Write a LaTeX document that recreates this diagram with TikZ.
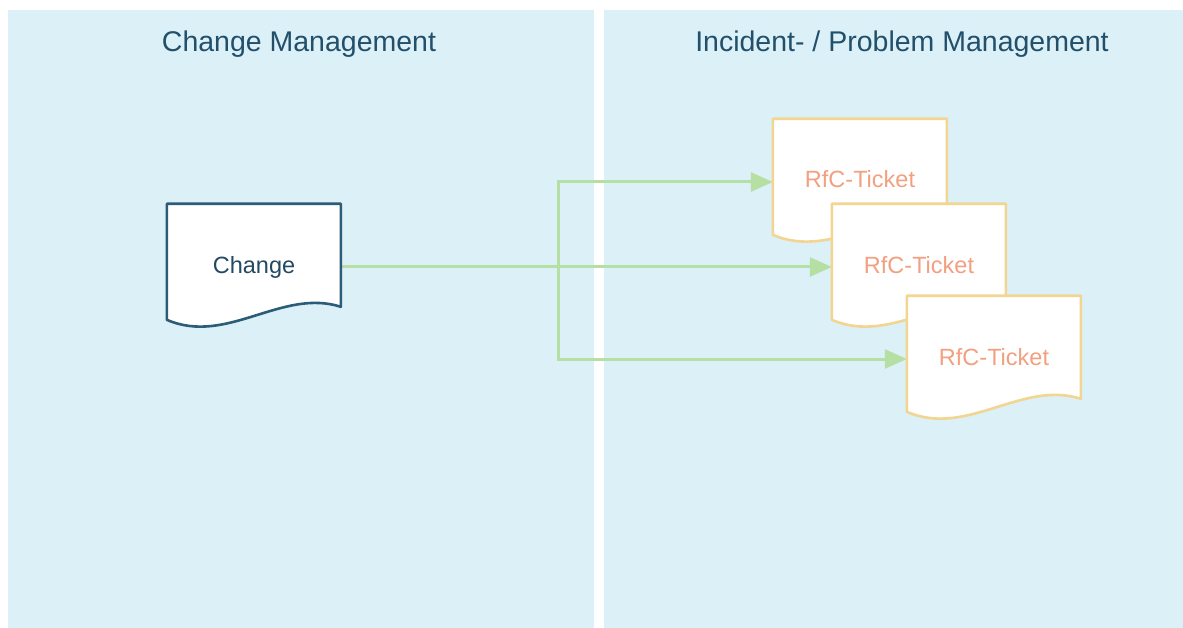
\documentclass[tikz,border=0pt]{standalone}
\usepackage{fontspec}
\setmainfont{Liberation Sans}
\usetikzlibrary{arrows.meta,backgrounds}

\definecolor{lanebg}{HTML}{DCF0F8}
\definecolor{titlecol}{HTML}{22506A}
\definecolor{chgline}{HTML}{2B5D78}
\definecolor{chgtext}{HTML}{234A60}
\definecolor{tktline}{HTML}{F2D591}
\definecolor{tkttext}{HTML}{F2A080}
\definecolor{flow}{HTML}{B6DFA4}

\pgfdeclarelayer{lanes}
\pgfdeclarelayer{flows}
\pgfsetlayers{lanes,flows,background,main}

\tikzset{
  lane/.style={fill=lanebg, draw=none},
  lanetitle/.style={anchor=base, text=titlecol, font=\fontsize{28.5}{30}\selectfont},
  docnode/.style={minimum width=174pt, minimum height=126pt, inner sep=0pt,
    text height=17pt, text depth=5pt, font=\fontsize{23.5}{25}\selectfont},
  changedoc/.style={docnode, text=chgtext},
  ticketdoc/.style={docnode, text=tkttext},
  flowline/.style={draw=flow, line width=3pt,
    -{Triangle[length=22pt,width=19pt]}},
}

% document outline: flat top, wavy bottom, drawn behind the node text
\newcommand{\docoutline}[2]{%
  \begin{pgfonlayer}{background}
    \draw[fill=white, draw=#2, line width=2.6pt, line join=round, shift={(#1.north west)}]
      (0,0) -- (174,0) -- (174,103)
      .. controls (115,84) and (60,142) .. (0,116) -- cycle;
  \end{pgfonlayer}}

\begin{document}
\begin{tikzpicture}[x=1pt, y=-1pt]
  \useasboundingbox (0,0) rectangle (1183,628);

  % swimlanes
  \begin{pgfonlayer}{lanes}
    \fill[white] (0,0) rectangle (1183,628);
    \fill[lane] (8,10) rectangle (594,628);
    \fill[lane] (604,10) rectangle (1183,628);
  \end{pgfonlayer}
  \node[lanetitle] (titleA) at (299,52) {Change Management};
  \node[lanetitle] (titleB) at (902,52) {Incident- / Problem Management};

  % documents
  \node[changedoc] (chg) at (254,267) {Change};
  \docoutline{chg}{chgline}

  \node[ticketdoc] (t1) at (860,182) {RfC-Ticket};
  \docoutline{t1}{tktline}
  \node[ticketdoc] (t2) at (919,267) {RfC-Ticket};
  \docoutline{t2}{tktline}
  \node[ticketdoc] (t3) at (994,359) {RfC-Ticket};
  \docoutline{t3}{tktline}

  % flows from the change to the tickets
  \coordinate (split) at (558,267);
  \begin{pgfonlayer}{flows}
    \draw[flowline] (chg.east) -- (t2.west);
    \draw[flowline] (chg.east) -- (split) |- (t1.west);
    \draw[flowline] (chg.east) -- (split) |- (t3.west);
  \end{pgfonlayer}
\end{tikzpicture}
\end{document}
